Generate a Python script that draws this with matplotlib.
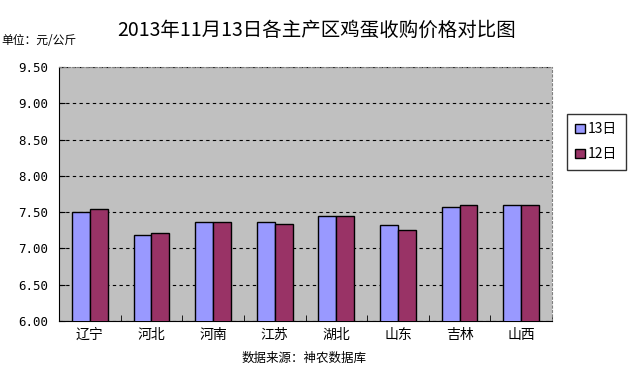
import numpy as np
import matplotlib
matplotlib.use("Agg")
import matplotlib.pyplot as plt

plt.rcParams["font.family"] = ["Noto Sans CJK SC", "DejaVu Sans"]

regions = ["辽宁", "河北", "河南", "江苏", "湖北", "山东", "吉林", "山西"]
price_13 = [7.50, 7.18, 7.36, 7.37, 7.45, 7.32, 7.57, 7.60]
price_12 = [7.54, 7.21, 7.36, 7.33, 7.45, 7.26, 7.60, 7.60]
series_names = ["13日", "12日"]
y_ticks = [6.00, 6.50, 7.00, 7.50, 8.00, 8.50, 9.00, 9.50]

fig = plt.figure(figsize=(6.29, 3.72), dpi=100)
ax = fig.add_axes([59 / 629, 1 - 321 / 372, (552 - 59) / 629, (321 - 67) / 372])
ax.set_facecolor("#C0C0C0")

x = np.arange(len(regions))
w = 0.29
b1 = ax.bar(x - w / 2, price_13, w, color="#9999FF", edgecolor="black", linewidth=1, zorder=3)
b2 = ax.bar(x + w / 2, price_12, w, color="#993366", edgecolor="black", linewidth=1, zorder=3)

ax.set_ylim(6.0, 9.5)
ax.set_xlim(-0.5, len(regions) - 0.5)
ax.set_yticks(y_ticks)
ax.set_yticklabels([f"{v:.2f}" for v in y_ticks], fontsize=9, family="DejaVu Sans Mono")
ax.yaxis.grid(True, linestyle=(0, (3, 3)), color="black", linewidth=0.8, zorder=1)

ax.set_xticks(x)
ax.set_xticklabels(regions, fontsize=10)
ax.set_xticks(np.arange(-0.5, len(regions)), minor=True)
ax.tick_params(axis="x", which="major", length=0, pad=5)
ax.tick_params(axis="x", which="minor", length=4, direction="in")
ax.tick_params(axis="y", length=4, direction="in", pad=8)

for side in ["top", "right"]:
    ax.spines[side].set_linestyle((0, (2, 2)))
    ax.spines[side].set_color("#808080")

leg = fig.legend([b1, b2], series_names, loc="upper left",
                 bbox_to_anchor=(567 / 629, 1 - 114 / 372), fontsize=10,
                 frameon=True, fancybox=False, edgecolor="black",
                 handlelength=0.7, handleheight=0.7, handletextpad=0.2,
                 labelspacing=0.8, borderpad=0.6, borderaxespad=0)
leg.get_frame().set_linewidth(1)

fig.text(317 / 629, 1 - 30 / 372, "2013年11月13日各主产区鸡蛋收购价格对比图",
         ha="center", va="center", fontsize=14)
fig.text(1 / 629, 1 - 40 / 372, "单位：元/公斤", ha="left", va="center", fontsize=8.5)
fig.text(304 / 629, 1 - 358 / 372, "数据来源：神农数据库", ha="center", va="center", fontsize=9)

fig.savefig("out.png", dpi=100)
